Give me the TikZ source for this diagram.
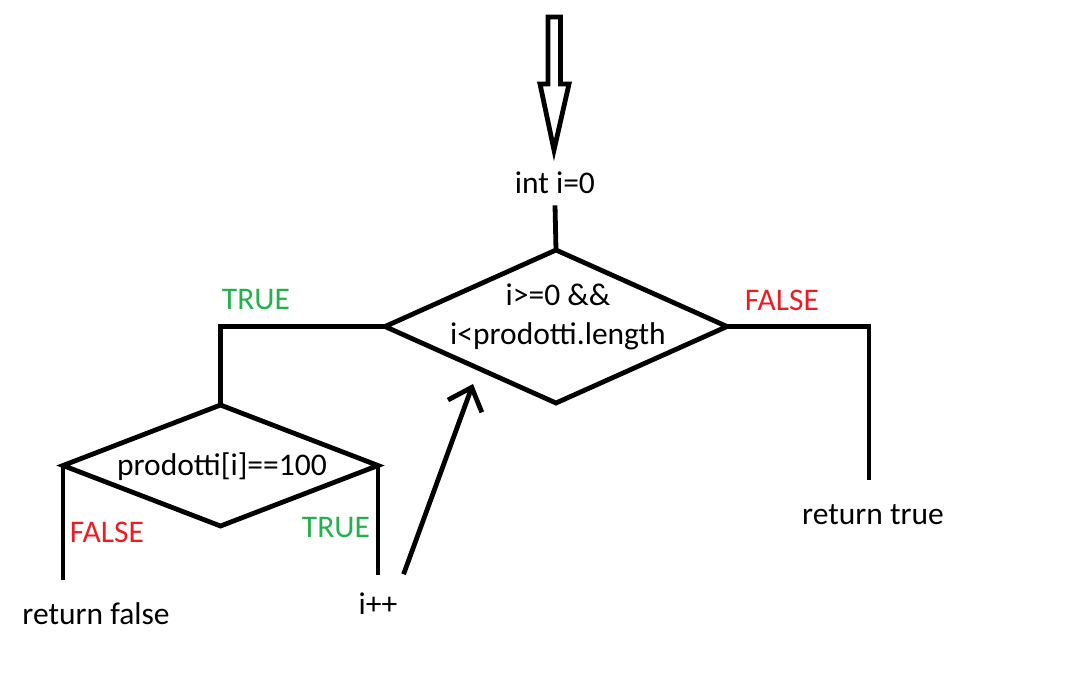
\documentclass[tikz,border=0pt]{standalone}
\usepackage{fontspec}
\setmainfont{Carlito}
\usetikzlibrary{arrows.meta,shapes.geometric}
\definecolor{paintred}{RGB}{237,28,36}
\definecolor{paintgreen}{RGB}{34,177,76}

\begin{document}
\begin{tikzpicture}[x=1pt,y=-1pt,line width=4.8pt,
  txt/.style={font=\fontsize{31.5}{39}\selectfont, inner sep=9pt},
  vero/.style={txt, text=paintgreen},
  falso/.style={txt, text=paintred},
  rombo/.style={draw, diamond, inner sep=0pt, outer sep=0pt}]
  \useasboundingbox (0,0) rectangle (1083,694);
  % freccia d'ingresso
  \draw[line join=miter] (548,17) -- (560.5,17) -- (560.5,84) -- (569,84) -- (554,150) -- (540,84) -- (548,84) -- cycle;
  \node[txt] (init) at (555,183) {int i=0};
  \node[rombo, minimum width=342pt, minimum height=153pt] (ciclo) at (556,326.5) {};
  \node[txt, align=center] (ciclotxt) at (558,317) {i>=0 \&\&\\i<prodotti.length};
  \node[rombo, minimum width=315pt, minimum height=121pt] (prod) at (220.5,465.5) {};
  \node[txt] (prodtxt) at (222,467) {prodotti[i]==100};
  \node[vero] (vero1) at (256,300) {TRUE};
  \node[falso] (falso1) at (782,300) {FALSE};
  \node[falso] (falso2) at (107,532) {FALSE};
  \node[vero] (vero2) at (336,527) {TRUE};
  \node[txt] (rfalse) at (96,614) {return false};
  \node[txt] (ipp) at (378,604) {i++};
  \node[txt] (rtrue) at (873,515) {return true};
  \coordinate (ritorno) at (473,384);
  % collegamenti
  \draw (init.south) -- (ciclo.north);
  \draw (ciclo.west) -| (prod.north);
  \draw[shorten >=14pt] (ciclo.east) -| ([xshift=-4pt]rtrue.north);
  \draw[shorten >=12pt] (prod.west) -- (prod.west |- rfalse.north);
  \draw[shorten >=7pt] (prod.east) -- (prod.east |- ipp.north);
  \draw[shorten <=8pt, -{Straight Barb[length=20pt,width=36pt]}] ([xshift=-8pt]ipp.north east) -- (ritorno);
\end{tikzpicture}
\end{document}
